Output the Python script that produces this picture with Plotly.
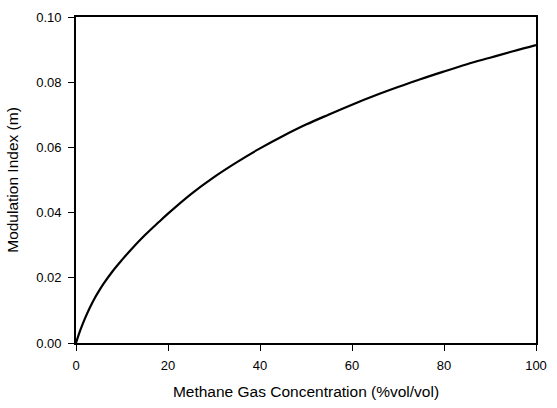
import plotly.graph_objects as go

# Methane concentration (%vol/vol) and the resulting modulation index m
concentration = [0, 0.5, 1, 2, 3, 4, 5, 6, 8, 10, 12, 15, 18, 20, 25, 30,
                 35, 40, 45, 50, 55, 60, 65, 70, 75, 80, 85, 90, 95, 100]
modulation_index = [0.0, 0.0022, 0.0042, 0.0077, 0.0108, 0.0136, 0.0160,
                    0.0182, 0.0221, 0.0255, 0.0287, 0.0331, 0.0371, 0.0397,
                    0.0457, 0.0509, 0.0555, 0.0597, 0.0635, 0.0670, 0.0701,
                    0.0731, 0.0759, 0.0785, 0.0810, 0.0833, 0.0855, 0.0875,
                    0.0895, 0.0914]

x_ticks = [0, 20, 40, 60, 80, 100]
y_ticks = [0.00, 0.02, 0.04, 0.06, 0.08, 0.10]
y_tick_labels = ["0.00", "0.02", "0.04", "0.06", "0.08", "0.10"]

FONT = "Liberation Sans, Arial, sans-serif"

fig = go.Figure(
    go.Scatter(
        x=concentration,
        y=modulation_index,
        mode="lines",
        line=dict(color="black", width=2.2, shape="spline", smoothing=1.0),
        showlegend=False,
    )
)

axis_common = dict(
    showgrid=False,
    zeroline=False,
    showline=True,
    linecolor="black",
    linewidth=1.6,
    mirror=True,
    ticks="outside",
    ticklen=6,
    tickwidth=1.3,
    tickcolor="black",
    tickfont=dict(family=FONT, size=13, color="black"),
)

fig.update_xaxes(
    range=[0, 100],
    tickvals=x_ticks,
    ticktext=[str(v) for v in x_ticks],
    ticklabelstandoff=4,
    title=dict(text="Methane Gas Concentration (%vol/vol)",
               font=dict(family=FONT, size=15.5, color="black"), standoff=14),
    **axis_common,
)
fig.update_yaxes(
    range=[0, 0.10],
    tickvals=y_ticks,
    ticktext=y_tick_labels,
    ticklabelstandoff=4,
    title=dict(text="Modulation Index (m)",
               font=dict(family=FONT, size=15.5, color="black"), standoff=14),
    **axis_common,
)

fig.update_layout(
    width=557,
    height=408,
    margin=dict(l=76, r=10, t=10, b=61),
    paper_bgcolor="white",
    plot_bgcolor="white",
    font=dict(family=FONT, color="black"),
)

fig.write_html("out.html")
